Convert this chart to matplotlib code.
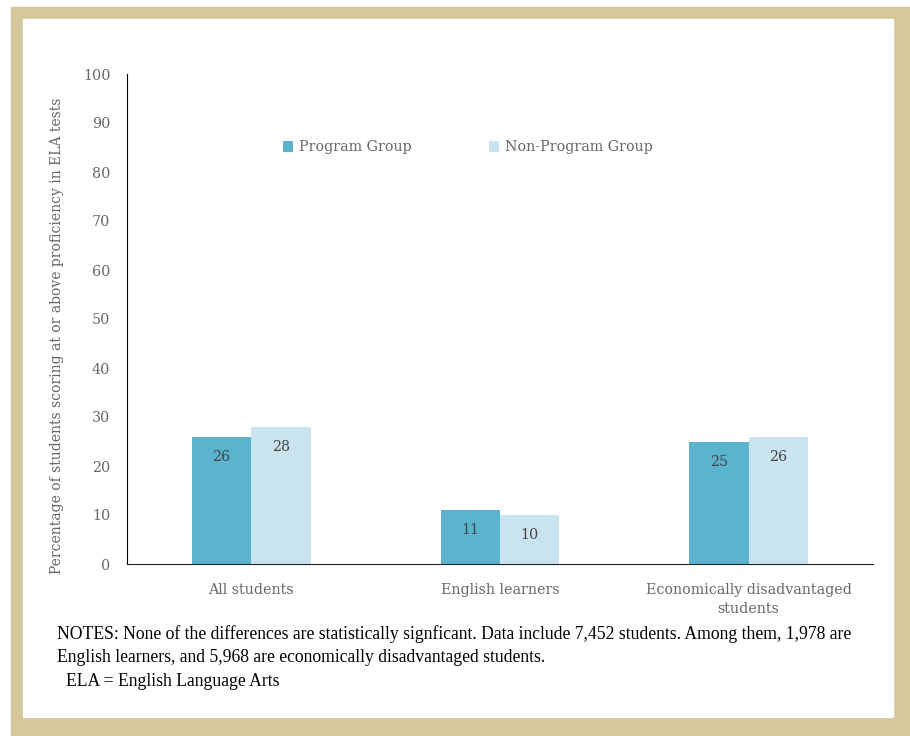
import matplotlib.pyplot as plt
from matplotlib.patches import Rectangle
import numpy as np

categories = ["All students", "English learners", "Economically disadvantaged\nstudents"]
program = [26, 11, 25]
non_program = [28, 10, 26]
series_names = ["Program Group", "Non-Program Group"]
yticks = [0, 10, 20, 30, 40, 50, 60, 70, 80, 90, 100]
notes = [
    "NOTES: None of the differences are statistically signficant. Data include 7,452 students. Among them, 1,978 are",
    "English learners, and 5,968 are economically disadvantaged students.",
    "ELA = English Language Arts",
]

c_prog = "#5AB4CE"
c_non = "#C9E4EE"
grey = "#666666"
fs = 10.3
plt.rcParams['font.family'] = ['DejaVu Serif']

W, H = 910, 736
fig = plt.figure(figsize=(W / 100, H / 100), dpi=100)
fig.patch.set_facecolor("white")

# beige frame
fig.patches.append(Rectangle((11 / W, 0), (W - 11) / W, (H - 7) / H,
                             transform=fig.transFigure, color="#D3C79B", zorder=-2))
fig.patches.append(Rectangle((23 / W, (H - 717) / H), (893 - 23) / W, (717 - 19) / H,
                             transform=fig.transFigure, color="white", zorder=-1))

ax = fig.add_axes([127 / W, (H - 564) / H, 746 / W, 490 / H])
ax.set_zorder(3)
ax.set_facecolor("none")

x = np.arange(len(categories))
w = 0.239
b1 = ax.bar(x - w / 2, program, w, color=c_prog, label=series_names[0])
b2 = ax.bar(x + w / 2, non_program, w, color=c_non, label=series_names[1])

for bars, vals in ((b1, program), (b2, non_program)):
    for r, v in zip(bars, vals):
        ax.text(r.get_x() + r.get_width() / 2, v - 4.1, str(v), ha="center", va="center",
                fontsize=fs, color="#444444")

ax.set_xlim(-0.5, 2.5)
ax.set_ylim(0, 100)
ax.set_yticks(yticks)
ax.set_xticks(x)
ax.set_xticklabels(categories, fontsize=fs, color=grey, linespacing=1.4)
ax.tick_params(axis="y", length=0, pad=12, labelsize=fs, labelcolor=grey)
ax.tick_params(axis="x", length=0, pad=14)
for s in ("top", "right"):
    ax.spines[s].set_visible(False)
ax.spines["left"].set_color("black")
ax.spines["bottom"].set_color("#222222")

ax.set_ylabel("Percentage of students scoring at or above proficiency in ELA tests",
              fontsize=10, color=grey)
ax.yaxis.set_label_coords(-0.0845, 0.465)

leg = ax.legend(loc="center left", bbox_to_anchor=(0.192, 0.85), ncol=2, frameon=False,
                fontsize=fs, handlelength=0.7, handleheight=0.7, handletextpad=0.4,
                columnspacing=5.43, labelcolor=grey)

for txt, xp, yp in zip(notes, [57, 57, 66], [634, 658, 682]):
    fig.text(xp / W, (H - yp) / H, txt, fontsize=12.7, color="black", va="center",
             family="Liberation Serif")

fig.savefig("out.png", dpi=100)
